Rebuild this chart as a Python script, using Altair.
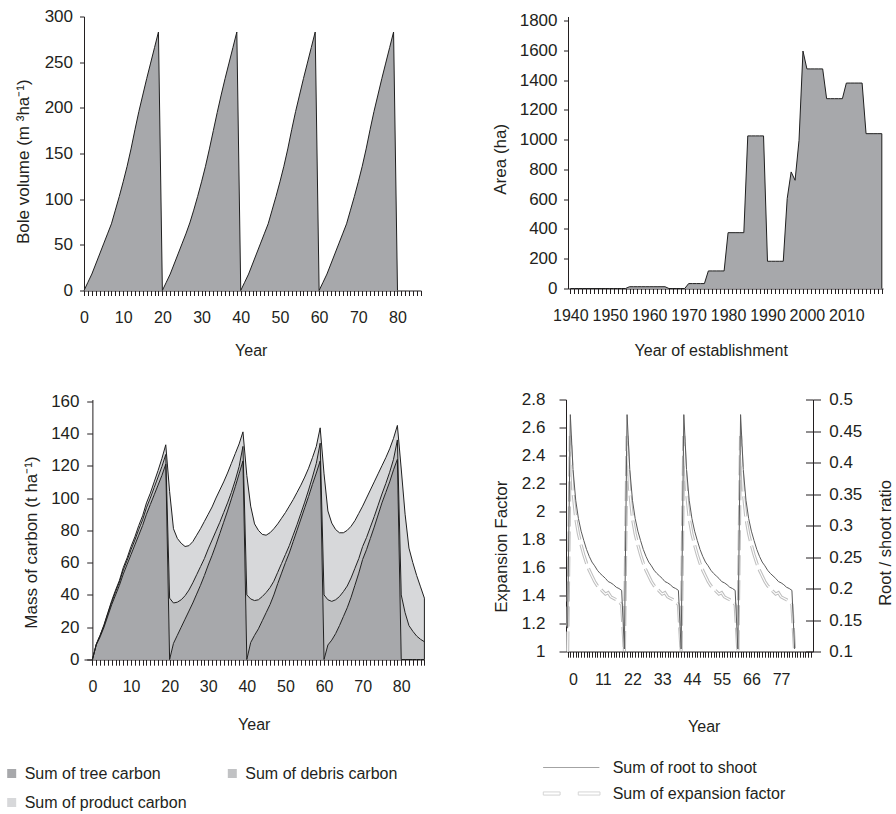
import altair as alt
import pandas as pd

FONT = "Liberation Sans"
INK = "#231f20"
AREA_GREY = "#a7a8ab"
OUTLINE = "#1f1f1f"

# ---------------- Panel (a): bole volume over four rotations ----------------
rotation_years = list(range(0, 81))
bole_volume = [
    0, 9, 18, 29, 40, 51, 62, 73, 88, 103, 119, 136, 155, 176, 196, 214, 232, 249, 266, 283,
    0, 9, 18, 29, 40, 51, 62, 74, 88, 103, 119, 136, 155, 175, 195, 214, 232, 249, 266, 283,
    0, 9, 18, 29, 40, 51, 62, 73, 88, 103, 119, 136, 155, 176, 196, 214, 232, 249, 266, 283,
    0, 9, 18, 29, 40, 51, 62, 73, 88, 103, 119, 136, 155, 176, 196, 214, 232, 249, 266, 283,
    0,
]
vol_ticks = [0, 50, 100, 150, 200, 250, 300]

# ---------------- Panel (b): area by year of establishment ----------------
establishment_years = list(range(1940, 2020))
area_ha = [
    0, 0, 0, 0, 0, 0, 0, 0, 0, 0, 0, 0, 0, 0, 0,
    12, 12, 12, 12, 12, 12, 12, 12, 12, 12,
    0, 0, 0, 0, 0,
    33, 33, 33, 33, 33,
    118, 118, 118, 118, 118,
    375, 375, 375, 375, 375,
    1025, 1025, 1025, 1025, 1025,
    183, 183, 183, 183, 183,
    604, 783, 727, 995, 1595,
    1475, 1475, 1475, 1475, 1475,
    1275, 1275, 1275, 1275, 1275,
    1380, 1380, 1380, 1380, 1380,
    1040, 1040, 1040, 1040, 1040,
]
area_ticks = [0, 200, 400, 600, 800, 1000, 1200, 1400, 1600, 1800]

# ---------------- Panel (c): carbon pools ----------------
carbon_years = list(range(0, 87))
carbon_series = ["Sum of tree carbon", "Sum of debris carbon", "Sum of product carbon"]
carbon_colours = ["#a7a8ab", "#c1c2c4", "#d7d8da"]
tree_carbon = [
    0, 9, 14, 20, 27, 34, 40, 46, 53, 59, 65, 71, 77, 83, 90, 96, 102, 108, 114, 121,
    0, 10, 15, 20, 25, 30, 35, 40.5, 46, 52, 58.5, 64.5, 71, 78, 85, 92, 99.5, 107, 115, 123,
    0, 10.5, 15, 19, 24, 29, 34, 40, 47, 53.5, 60, 66, 73, 80, 87, 94, 101, 108.5, 115.5, 123,
    0, 9, 12, 16, 21, 26.5, 32, 38.5, 46, 53.5, 62, 68, 75, 82, 89.5, 97, 103.5, 110, 117.5, 124,
    0, 0, 0, 0, 0, 0, 0,
]
debris_carbon = [
    0, 0.5, 1, 1, 1.5, 1.5, 2, 2, 2.5, 2.5, 3, 3, 3.5, 3.5, 4, 4, 4.5, 5, 5.5, 6,
    38, 25, 20.5, 17, 14.5, 13, 12.5, 12, 11.5, 10.5, 10, 9.5, 8.5, 7, 6, 5, 4, 4, 4.5, 9,
    40, 27, 21.5, 18, 15, 12.5, 10.5, 8.5, 7, 6, 5, 4.5, 4, 3.5, 3.5, 3.5, 4, 4.5, 6, 11,
    40, 28, 24, 21, 18, 15.5, 13.5, 12, 10.5, 9, 8, 7.5, 7, 6.5, 6, 5.5, 5.5, 6, 6.5, 12,
    40, 29, 21, 17.5, 14.5, 12.5, 11,
]
product_carbon = [
    0, 0, 0, 0.5, 0.5, 1, 1, 1, 1.5, 1.5, 2, 2, 2.5, 2.5, 3, 3, 3.5, 4, 5, 6,
    66, 46, 39.5, 35, 30.5, 27.5, 25.5, 24.5, 23.5, 23, 21.5, 20.5, 20.5, 20, 19, 18.5, 18, 16.5, 14, 9,
    74, 57.5, 47.5, 43, 38.5, 35.5, 34, 32.5, 30, 28, 26, 24.5, 22, 20, 17.5, 15.5, 13.5, 12, 10.5, 9.5,
    75, 55, 48.5, 43.5, 39.5, 36.5, 34.5, 32, 29.5, 28, 25, 24.5, 23, 21.5, 19.5, 17.5, 16, 14.5, 13, 9,
    78, 61, 48, 42.5, 37.5, 32.5, 27,
]
carbon_ticks = [0, 20, 40, 60, 80, 100, 120, 140, 160]

# ---------------- Panel (d): expansion factor and root/shoot ----------------
factor_years = list(range(-2, 83))
factor_series = ["Sum of root to shoot", "Sum of expansion factor"]
factor_colours = ["#5b5b5b", "#bfbfbf"]
factor_symbols = ["M-8,0H8", "M-8,-0.45H-3.2V0.45H-8Z M2,-0.45H8.2V0.45H2Z"]
root_to_shoot = [
    0.137, 0.476, 0.389, 0.340, 0.311, 0.291, 0.276, 0.262, 0.251, 0.242, 0.236, 0.229, 0.224, 0.220, 0.216, 0.211, 0.209, 0.206, 0.202, 0.200, 0.197,
    0.104, 0.476, 0.389, 0.340, 0.311, 0.291, 0.276, 0.262, 0.251, 0.242, 0.236, 0.229, 0.224, 0.220, 0.216, 0.211, 0.209, 0.206, 0.202, 0.200, 0.197,
    0.104, 0.476, 0.389, 0.340, 0.311, 0.291, 0.276, 0.262, 0.251, 0.242, 0.236, 0.229, 0.224, 0.220, 0.216, 0.211, 0.209, 0.206, 0.202, 0.200, 0.197,
    0.104, 0.476, 0.389, 0.340, 0.311, 0.291, 0.276, 0.262, 0.251, 0.242, 0.236, 0.229, 0.224, 0.220, 0.216, 0.211, 0.209, 0.206, 0.202, 0.200, 0.197,
    0.104,
]
expansion_factor = [
    1.0, 2.54, 2.14, 1.95, 1.84, 1.76, 1.69, 1.63, 1.58, 1.54, 1.50, 1.47, 1.45, 1.43, 1.41, 1.42, 1.39, 1.38, 1.37, 1.355, 1.335,
    1.0, 2.54, 2.14, 1.95, 1.84, 1.76, 1.69, 1.63, 1.58, 1.54, 1.50, 1.47, 1.45, 1.43, 1.41, 1.42, 1.39, 1.38, 1.37, 1.355, 1.335,
    1.0, 2.54, 2.14, 1.95, 1.84, 1.76, 1.69, 1.63, 1.58, 1.54, 1.50, 1.47, 1.45, 1.43, 1.41, 1.42, 1.39, 1.38, 1.37, 1.355, 1.335,
    1.0, 2.54, 2.14, 1.95, 1.84, 1.76, 1.69, 1.63, 1.58, 1.54, 1.50, 1.47, 1.45, 1.43, 1.41, 1.42, 1.39, 1.38, 1.37, 1.355, 1.335,
    1.0,
]
ef_ticks = [1, 1.2, 1.4, 1.6, 1.8, 2, 2.2, 2.4, 2.6, 2.8]
rs_ticks = [0.1, 0.15, 0.2, 0.25, 0.3, 0.35, 0.4, 0.45, 0.5]


def bottom_axis(values, label_expr, title, title_x, title_y, label_pad, tick=5):
    return alt.Axis(values=values, labelExpr=label_expr, format="d", title=title,
                    titleX=title_x, titleY=title_y, titleAlign="center", titleBaseline="top",
                    titleAngle=0, titleFontSize=16, labelFontSize=16, tickSize=tick,
                    labelPadding=label_pad, labelFlush=False, labelOverlap=False,
                    labelAngle=0, grid=False)


def side_axis(values, title, title_x, title_y, tick, pad, fmt="d", orient="left", offset=0, title_size=17):
    baseline = "bottom" if orient == "left" else "top"
    return alt.Axis(values=values, format=fmt, orient=orient, title=title,
                    titleX=title_x, titleY=title_y, titleAngle=270, titleBaseline=baseline,
                    titleAlign="center", titleFontSize=title_size, labelFontSize=17, tickSize=tick,
                    labelPadding=pad, labelOverlap=False, grid=False, offset=offset)


# ---- (a)
dfA = pd.DataFrame({"Year": rotation_years, "Volume": bole_volume})
xA = alt.X("Year:Q", scale=alt.Scale(domain=[0, 86], nice=False, zero=False),
           axis=bottom_axis(list(range(0, 87)), "datum.value % 10 == 0 ? datum.label : ''",
                            "Year", 166.7, 51.8, 13.8))
yA = alt.Y("Volume:Q", scale=alt.Scale(domain=[0, 300], nice=False),
           axis=side_axis(vol_ticks, "Bole volume (m ³ha⁻¹)", -51.6, 144.7, 4.5, 7))
A = alt.Chart(dfA).mark_area(color=AREA_GREY, opacity=1,
                             line={"color": OUTLINE, "strokeWidth": 1}).encode(
    x=xA, y=yA).properties(width=337, height=274)

# ---- (b)
dfB = pd.DataFrame({"Year": establishment_years, "Area": area_ha})
xB = alt.X("Year:Q", scale=alt.Scale(domain=[1939.4, 2019.3], nice=False, zero=False),
           axis=bottom_axis(establishment_years, "datum.value % 10 == 0 ? datum.label : ''",
                            "Year of establishment", 142.7, 53.8, 13.8))
yB = alt.Y("Area:Q", scale=alt.Scale(domain=[0, 1827], nice=False),
           axis=side_axis(area_ticks, "Area (ha)", -58.3, 142.3, 4.5, 6.5))
baseB = alt.Chart(dfB)
areaB = baseB.mark_area(color=AREA_GREY, opacity=1,
                        line={"color": OUTLINE, "strokeWidth": 1}).encode(x=xB, y=yB)
edgeB = baseB.transform_filter(f"datum.Year == {establishment_years[-1]}").mark_rule(
    color=OUTLINE, strokeWidth=1).encode(x=xB, y=yB, y2=alt.datum(0))
B = alt.layer(areaB, edgeB).properties(width=315, height=272)

# ---- (c)
rows = []
for i, yr in enumerate(carbon_years):
    for k, (name, vals) in enumerate(zip(carbon_series, [tree_carbon, debris_carbon, product_carbon])):
        rows.append({"Year": yr, "Series": name, "k": k, "Carbon": vals[i]})
dfC = pd.DataFrame(rows)
xC = alt.X("Year:Q", scale=alt.Scale(domain=[-2.18, 86], nice=False, zero=False),
           axis=bottom_axis(list(range(0, 87)), "datum.value % 10 == 0 ? datum.label : ''",
                            "Year", 169.7, 56.8, 13.1, tick=5.7))
yC = alt.Y("c1:Q", scale=alt.Scale(domain=[0, 161.05], nice=False),
           axis=side_axis(carbon_ticks, "Mass of carbon (t ha⁻¹)", -51.7, 142.5, 5.7, 7.7, offset=-8.4))
legC = alt.Legend(orient="none", legendX=-80.3, legendY=749, title=None, columns=2,
                  direction="horizontal", symbolType="square", symbolSize=81,
                  symbolStrokeWidth=0, symbolOpacity=1, labelOffset=5, columnPadding=37.6,
                  rowPadding=13, labelFontSize=16, labelFont=FONT, labelColor=INK,
                  labelLimit=400, padding=0)
baseC = alt.Chart(dfC).transform_stack(
    stack="Carbon", as_=["c0", "c1"], groupby=["Year"], sort=[alt.SortField("k", order="ascending")])
areaC = baseC.mark_area(strokeWidth=0, opacity=1).encode(
    x=xC, y=yC, y2="c0:Q",
    fill=alt.Fill("Series:N", scale=alt.Scale(domain=carbon_series, range=carbon_colours),
                  legend=legC, sort=carbon_series))
lineC = baseC.mark_line(color=OUTLINE, strokeWidth=1).encode(x=xC, y=yC, detail="Series:N")
edgeC = baseC.transform_filter(f"datum.Year == {carbon_years[-1]} && datum.k == 2").mark_rule(
    color=OUTLINE, strokeWidth=1).encode(x=xC, y=yC, y2=alt.datum(0))
C = alt.layer(areaC, lineC, edgeC).properties(width=340.4, height=260)

# ---- (d)
dfDr = pd.DataFrame({"X": factor_years, "Value": root_to_shoot, "Series": factor_series[0]})
dfDe = pd.DataFrame({"X": factor_years, "Value": expansion_factor, "Series": factor_series[1]})
xD = alt.X("X:Q", scale=alt.Scale(domain=[-2.6, 88.8], nice=False, zero=False),
           axis=bottom_axis(list(range(-2, 89)),
                            "datum.value >= 0 && datum.value <= 77 && datum.value % 11 == 0 ? datum.label : ''",
                            "Year", 137.7, 67.1, 14.4, tick=5.7))
ef_scale = alt.Scale(domain=[1, 2.8], nice=False, zero=False)
rs_scale = alt.Scale(domain=[0.1, 0.5], nice=False, zero=False)
yDl = alt.Y("Value:Q", scale=ef_scale,
            axis=side_axis(ef_ticks, "Expansion Factor", -56, 146.7, 7, 14, fmt="~g"))
yDw = alt.Y("Value:Q", scale=ef_scale, axis=None)
yDr = alt.Y("Value:Q", scale=rs_scale,
            axis=side_axis(rs_ticks, "Root / shoot ratio", 64, 143, 7.5, 8.2, fmt="~g",
                           orient="right", title_size=16.5))
# inner half of the crossing ticks on the right-hand axis
yDin = alt.Y("Value:Q", scale=rs_scale,
             axis=alt.Axis(orient="right", offset=-7.5, values=rs_ticks, domain=False,
                           labels=False, title=None, tickSize=7.5, grid=False))
stroke_scale = alt.Scale(domain=factor_series, range=factor_colours)
shape_scale = alt.Scale(domain=factor_series, range=factor_symbols)
legD = alt.Legend(orient="none", legendX=479.3, legendY=743, title=None, direction="vertical",
                  symbolSize=49, symbolStrokeWidth=1, symbolDash=[1, 0], labelOffset=33.4,
                  rowPadding=10, labelFontSize=16, labelFont=FONT, labelColor=INK,
                  labelLimit=400, padding=0)
expGrey = alt.Chart(dfDe).mark_line(strokeWidth=3.2, strokeDash=[20, 5]).encode(
    x=xD, y=yDl, stroke=alt.Stroke("Series:N", scale=stroke_scale, legend=legD))
expWhite = alt.Chart(dfDe).mark_line(strokeWidth=1.1, strokeDash=[20, 5], color="white").encode(
    x=xD, y=yDw)
rootLine = alt.Chart(dfDr).mark_line(strokeWidth=1).encode(
    x=xD, y=yDr, stroke=alt.Stroke("Series:N", scale=stroke_scale, legend=legD))
# carrier of the legend symbol shapes and inner ticks only (no rows are drawn)
keyMarks = alt.Chart(dfDr).transform_filter("false").mark_point(filled=False).encode(
    x=xD, y=yDin,
    stroke=alt.Stroke("Series:N", scale=stroke_scale, legend=legD),
    shape=alt.Shape("Series:N", scale=shape_scale, legend=legD))
D = alt.layer(expGrey, expWhite, rootLine, keyMarks).resolve_scale(y="independent").properties(
    width=247, height=252)

row1 = alt.hconcat(A, B, spacing=69)
row2 = alt.hconcat(C, D, spacing=65)
chart = alt.vconcat(row1, row2, spacing=32).properties(
    padding={"left": 3, "top": 7.5, "right": 0, "bottom": 2}, background="white")
chart = chart.configure(font=FONT).configure_view(stroke=None).configure_axis(
    domainColor=INK, tickColor=INK, labelColor=INK, titleColor=INK, labelFont=FONT,
    titleFont=FONT, titleFontWeight="normal", domainWidth=1, tickWidth=1, grid=False)

chart.save("out.html", embed_options={"renderer": "svg", "actions": False})
